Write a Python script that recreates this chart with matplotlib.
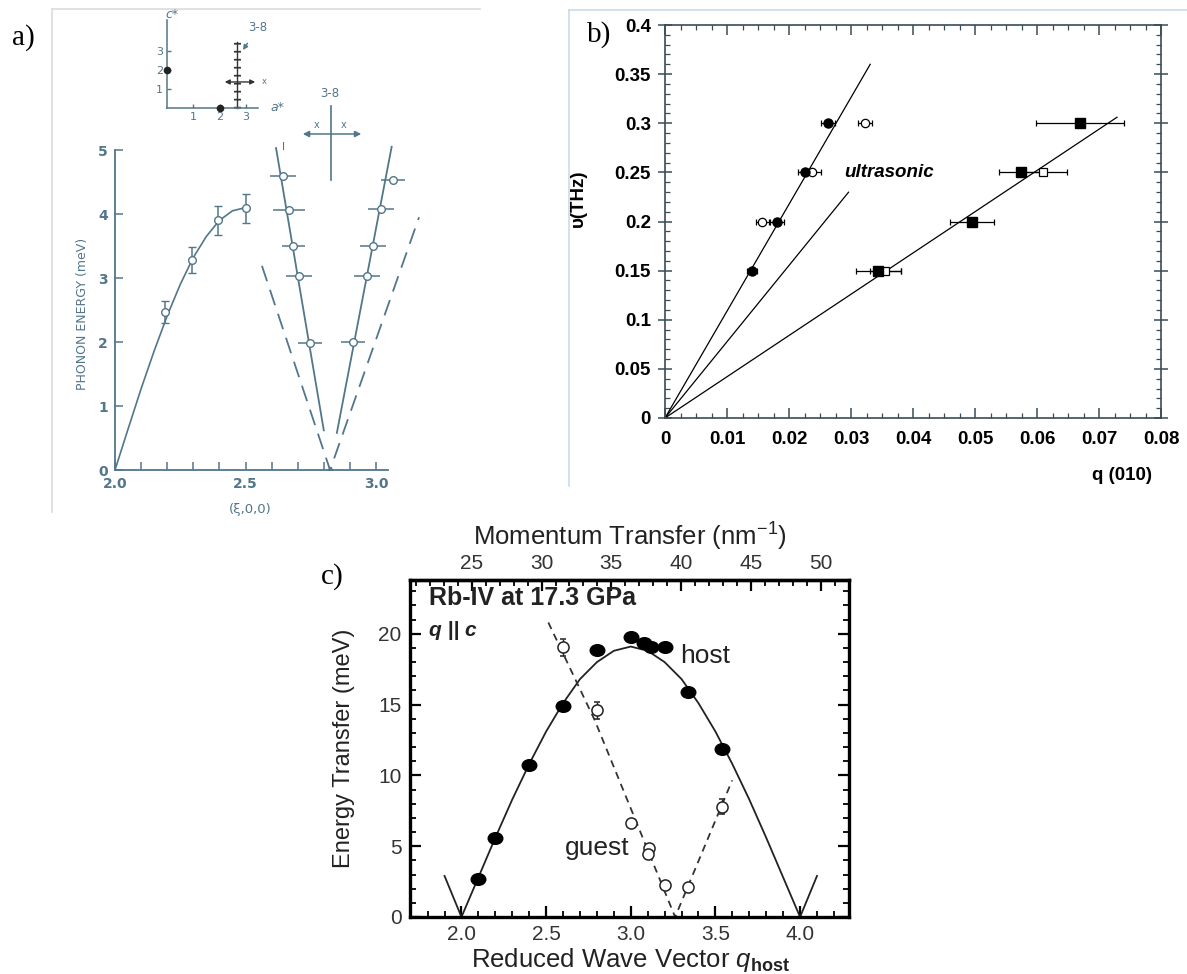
import matplotlib
matplotlib.use('Agg')
import matplotlib.pyplot as plt
from matplotlib.path import Path
from matplotlib.markers import MarkerStyle
from matplotlib.transforms import Affine2D
from matplotlib.ticker import MultipleLocator, FixedLocator

plt.rcParams['mathtext.fontset'] = 'custom'
plt.rcParams['mathtext.rm'] = 'Liberation Sans'
plt.rcParams['mathtext.it'] = 'Liberation Sans:italic'
plt.rcParams['mathtext.bf'] = 'Liberation Sans:bold'

# ---------------- panel a : phonon energy along (xi,0,0)
a_fit_x = [2.0, 2.05, 2.1, 2.15, 2.2, 2.25, 2.3, 2.35, 2.4, 2.45, 2.5]
a_fit_e = [0.0, 0.64, 1.27, 1.86, 2.41, 2.90, 3.32, 3.65, 3.90, 4.05, 4.10]
a_pts_x = [2.19, 2.295, 2.395, 2.5]
a_pts_e = [2.47, 3.28, 3.90, 4.09]
a_pts_err = [0.17, 0.20, 0.23, 0.23]

a_left_x = [2.643, 2.667, 2.683, 2.705, 2.747]
a_left_e = [4.59, 4.06, 3.50, 3.03, 1.98]
a_left_err = [0.05, 0.06, 0.045, 0.05, 0.045]
a_right_x = [3.066, 3.018, 2.990, 2.965, 2.912]
a_right_e = [4.53, 4.08, 3.50, 3.03, 2.00]
a_right_err = [0.045, 0.05, 0.05, 0.05, 0.045]

a_left_line_x = [2.617, 2.800]
a_left_line_e = [5.03, 0.62]
a_right_line_x = [2.850, 3.060]
a_right_line_e = [0.58, 5.05]
a_dash_x = [2.563, 2.824, 3.165]
a_dash_e = [3.19, 0.0, 3.95]
a_zero_x = [2.824]
a_zero_e = [0.0]

# scan-direction cross drawn above the branches
a_cross_x = 2.828
a_cross_e = [4.53, 5.69]
a_arrow_x = [2.709, 2.954]
a_arrow_e = 5.25

# reciprocal-lattice sketch (inset)
rl_dot_x = [2, 0]
rl_dot_y = [0, 2]
rl_scan_x = 2.66
rl_scan_top = 3.47
rl_arrow_x = [2.09, 3.46]
rl_arrow_y = 1.37

# ---------------- panel b : nu vs q (010)
b_fc_q = [0.0140, 0.0181, 0.0226, 0.0263]
b_fc_nu = [0.15, 0.20, 0.25, 0.30]
b_fc_err = [0.0008, 0.0011, 0.0011, 0.0011]
b_oc_q = [0.0157, 0.0237, 0.0323]
b_oc_nu = [0.20, 0.25, 0.30]
b_oc_err = [0.0011, 0.0015, 0.0011]
b_fs_q = [0.0344, 0.0495, 0.0574, 0.0669]
b_fs_nu = [0.15, 0.20, 0.25, 0.30]
b_fs_err = [0.0036, 0.0036, 0.0035, 0.0071]
b_os_q = [0.0355, 0.0609]
b_os_nu = [0.15, 0.25]
b_os_err = [0.0025, 0.0039]
b_line_q = [0.0331, 0.0296, 0.0729]
b_line_nu = [0.360, 0.2298, 0.3061]

# ---------------- panel c : Rb-IV at 17.3 GPa
c_host_q = [2.10, 2.20, 2.40, 2.60, 2.80, 3.00, 3.08, 3.12, 3.20, 3.34, 3.54]
c_host_e = [2.65, 5.6, 10.75, 14.9, 18.85, 19.8, 19.35, 19.05, 19.1, 15.9, 11.9]
c_guest_q = [2.60, 2.80, 3.00, 3.11, 3.10, 3.20, 3.34, 3.54]
c_guest_e = [19.05, 14.6, 6.65, 4.85, 4.45, 2.25, 2.15, 7.8]
c_guest_err = [0.6, 0.6, 0.2, 0.2, 0.2, 0.2, 0.2, 0.5]
c_fit_q = [1.9, 2.0, 2.1, 2.2, 2.3, 2.4, 2.5, 2.6, 2.7, 2.8, 2.9, 3.0,
           3.1, 3.2, 3.3, 3.4, 3.5, 3.6, 3.7, 3.8, 3.9, 4.0, 4.1]
c_fit_e = [2.9, 0.0, 2.8, 5.6, 8.3, 10.8, 13.1, 15.1, 16.8, 18.0, 18.8, 19.1,
           18.8, 18.0, 16.8, 15.1, 13.1, 10.8, 8.3, 5.6, 2.8, 0.0, 2.9]
c_guest_line_q = [2.513, 2.787, 3.262, 3.599]
c_guest_line_e = [20.8, 13.9, 0.0, 9.65]
nm_per_q = 12.13   # momentum transfer (nm^-1) per reduced unit


W, H = 1187, 974
fig = plt.figure(figsize=(W / 100, H / 100), dpi=100)


def box(x0, y0, x1, y1):
    # pixel box (top-left origin) -> figure fraction rect
    return [x0 / W, 1 - y1 / H, (x1 - x0) / W, (y1 - y0) / H]


# faint borders of the scanned panels
for rect, col in [(box(52, 9, 480, 512), '#dcdcdc'), (box(569, 10, 1187, 486), '#cadcea')]:
    bg = fig.add_axes(rect, zorder=-5)
    bg.set_xticks([])
    bg.set_yticks([])
    for s in ['right', 'bottom']:
        bg.spines[s].set_visible(False)
    for s in ['left', 'top']:
        bg.spines[s].set_color(col)
        bg.spines[s].set_linewidth(1.2)
    bg.patch.set_alpha(0)

# ================= panel a
ac = '#52768a'
axa = fig.add_axes([115 / W, 1 - 470 / H, 313.2 / W, 390.4 / H])
axa.patch.set_alpha(0)
axa.set_xlim(2.0, 3.2)
axa.set_ylim(0, 6.1)
for s in ['top', 'right']:
    axa.spines[s].set_visible(False)
axa.spines['left'].set_bounds(0, 5)
axa.spines['bottom'].set_bounds(2.0, 3.045)
for s in ['left', 'bottom']:
    axa.spines[s].set_color(ac)
    axa.spines[s].set_linewidth(1.3)
axa.xaxis.set_major_locator(FixedLocator([2.0, 2.5, 3.0]))
axa.xaxis.set_minor_locator(FixedLocator([2.1, 2.2, 2.3, 2.4, 2.6, 2.7, 2.8, 2.9]))
axa.yaxis.set_major_locator(FixedLocator([0, 1, 2, 3, 4, 5]))
axa.tick_params(which='both', direction='in', length=6, width=1.1, color=ac,
                labelcolor=ac, labelsize=10, pad=5)
axa.set_xticklabels(['2.0', '2.5', '3.0'], fontweight='bold')
axa.set_yticklabels(['0', '1', '2', '3', '4', '5'], fontweight='bold')
axa.set_ylabel('PHONON ENERGY (meV)', color=ac, fontsize=9)
axa.yaxis.set_label_coords(-0.083, 0.40)
axa.set_xlabel('(ξ,0,0)', color=ac, fontsize=9.5)
axa.xaxis.set_label_coords(0.431, -0.085)

axa.plot(a_fit_x, a_fit_e, color=ac, lw=1.2)
axa.errorbar(a_pts_x, a_pts_e, yerr=a_pts_err, fmt='o', ms=5.5, mfc='white', mec=ac,
             ecolor=ac, elinewidth=1.1, capsize=3, color=ac)
axa.plot(a_left_line_x, a_left_line_e, color=ac, lw=1.3)
axa.plot(a_right_line_x, a_right_line_e, color=ac, lw=1.3)
axa.plot(a_dash_x, a_dash_e, color=ac, lw=1.3, dashes=(9, 5))
axa.plot(a_zero_x, a_zero_e, 'o', ms=3, color=ac)
axa.errorbar(a_left_x, a_left_e, xerr=a_left_err, fmt='o', ms=5.5, mfc='white', mec=ac,
             ecolor=ac, elinewidth=1.1, capsize=0)
axa.errorbar(a_right_x, a_right_e, xerr=a_right_err, fmt='o', ms=5.5, mfc='white', mec=ac,
             ecolor=ac, elinewidth=1.1, capsize=0)
axa.text(2.644, 5.05, 'l', color=ac, fontsize=8, ha='center', va='center')

# cross: scan direction marker
axa.plot([a_cross_x, a_cross_x], a_cross_e, color=ac, lw=1.2)
axa.annotate('', xy=(a_arrow_x[0], a_arrow_e), xytext=(a_arrow_x[1], a_arrow_e),
             arrowprops=dict(arrowstyle='<|-|>', color=ac, lw=1.1, mutation_scale=9))
axa.text(2.774, 5.39, 'x', color=ac, fontsize=7, ha='center', va='center')
axa.text(2.874, 5.39, 'x', color=ac, fontsize=7, ha='center', va='center')
axa.text(2.824, 5.89, '3-8', color=ac, fontsize=8.5, ha='center', va='center')

# inset: reciprocal lattice sketch
axi = fig.add_axes(box(150, 5, 300, 130))
axi.patch.set_alpha(0)
axi.set_xlim(-0.646, 5.057)
axi.set_ylim(-1.158, 5.42)
for s in ['top', 'right']:
    axi.spines[s].set_visible(False)
axi.spines['left'].set_position(('data', 0))
axi.spines['bottom'].set_position(('data', 0))
axi.spines['left'].set_bounds(0, 4.63)
axi.spines['bottom'].set_bounds(0, 3.46)
for s in ['left', 'bottom']:
    axi.spines[s].set_color(ac)
    axi.spines[s].set_linewidth(1.1)
axi.set_xticks([1, 2, 3])
axi.set_yticks([1, 2, 3])
axi.tick_params(direction='in', length=3, width=1, color=ac, labelcolor=ac,
                labelsize=8, pad=3)
axi.plot(rl_dot_x, rl_dot_y, 'o', ms=4.5, color='#222222', clip_on=False, zorder=5)
axi.plot([rl_scan_x, rl_scan_x], [0, rl_scan_top], color='#333333', lw=1.0)
axi.plot([rl_scan_x, rl_scan_x], [0, rl_scan_top], color='#333333', lw=5, dashes=(0.25, 0.9))
axi.annotate('', xy=(rl_arrow_x[0], rl_arrow_y), xytext=(rl_arrow_x[1], rl_arrow_y),
             arrowprops=dict(arrowstyle='<|-|>', color='#333333', lw=1.0, mutation_scale=7))
axi.text(3.62, rl_arrow_y, 'x', color=ac, fontsize=6, va='center')
axi.annotate('3-8', xy=(2.89, 3.05), xytext=(3.46, 4.26), color=ac, fontsize=8.5,
             ha='center', va='center',
             arrowprops=dict(arrowstyle='-|>', color=ac, lw=1.0, mutation_scale=7,
                             shrinkA=6, shrinkB=0))
axi.text(4.18, 0, 'a*', color=ac, fontsize=9, va='center', ha='center', style='italic')
axi.text(0.19, 4.9, 'c*', color=ac, fontsize=9, va='center', ha='center', style='italic')

# ================= panel b
bc = '#3b4b55'
axb = fig.add_axes([665 / W, 1 - 418 / H, 496 / W, 393 / H])
axb.set_xlim(0, 0.08)
axb.set_ylim(0, 0.4)
for s in axb.spines.values():
    s.set_color(bc)
    s.set_linewidth(1.2)
axb.xaxis.set_major_locator(MultipleLocator(0.01))
axb.xaxis.set_minor_locator(MultipleLocator(0.0025))
axb.yaxis.set_major_locator(MultipleLocator(0.05))
axb.yaxis.set_minor_locator(MultipleLocator(0.01))
axb.tick_params(which='both', direction='in', top=True, right=True, color=bc)
axb.tick_params(which='major', length=7, width=1.1)
axb.tick_params(which='minor', length=3.5, width=0.9)
axb.tick_params(axis='y', which='major', direction='inout', length=10)
axb.set_xticks([0, 0.01, 0.02, 0.03, 0.04, 0.05, 0.06, 0.07, 0.08])
axb.set_xticklabels(['0', '0.01', '0.02', '0.03', '0.04', '0.05', '0.06', '0.07', '0.08'],
                    fontsize=13.5, fontweight='bold', family='Liberation Sans')
axb.set_yticks([0, 0.05, 0.1, 0.15, 0.2, 0.25, 0.3, 0.35, 0.4])
axb.set_yticklabels(['0', '0.05', '0.1', '0.15', '0.2', '0.25', '0.3', '0.35', '0.4'],
                    fontsize=13.5, fontweight='bold', family='Liberation Sans')
axb.tick_params(axis='x', pad=9)
axb.tick_params(axis='y', pad=5)
axb.set_xlabel('q (010)', fontsize=13.5, fontweight='bold', family='Liberation Sans')
axb.xaxis.set_label_coords(0.921, -0.125)
axb.set_ylabel('υ(THz)', fontsize=13.5, fontweight='bold', family='Liberation Sans')
axb.yaxis.set_label_coords(-0.157, 0.56)

for qe, ne in zip(b_line_q, b_line_nu):
    axb.plot([0, qe], [0, ne], color='black', lw=0.9)
eb = dict(ecolor='black', elinewidth=0.9, capsize=2, capthick=0.9)
axb.errorbar(b_oc_q, b_oc_nu, xerr=b_oc_err, fmt='o', ms=6, mfc='white', mec='black',
             mew=0.9, **eb)
axb.errorbar(b_os_q, b_os_nu, xerr=b_os_err, fmt='s', ms=6, mfc='white', mec='black',
             mew=0.9, **eb)
axb.errorbar(b_fc_q, b_fc_nu, xerr=b_fc_err, fmt='o', ms=6.5, color='black', **eb)
axb.errorbar(b_fs_q, b_fs_nu, xerr=b_fs_err, fmt='s', ms=6.5, color='black', **eb)
axb.text(0.0289, 0.25, 'ultrasonic', fontsize=13.5, fontweight='bold', style='italic',
         family='Liberation Sans', va='center', ha='left')

# ================= panel c
ink = '#222222'
axc = fig.add_axes([410 / W, 1 - 917 / H, 439 / W, 337 / H])
axc.set_xlim(1.696, 4.289)
axc.set_ylim(0, 23.8)
for s in axc.spines.values():
    s.set_linewidth(2.4)
axc.xaxis.set_minor_locator(MultipleLocator(0.1))
axc.yaxis.set_minor_locator(MultipleLocator(1))
axc.tick_params(which='both', direction='in', right=True, top=False)
axc.tick_params(which='major', length=8, width=1.6, labelsize=15, pad=6, labelcolor='#333333')
axc.tick_params(which='minor', length=4, width=1.3)
axc.set_xticks([2.0, 2.5, 3.0, 3.5, 4.0])
axc.set_xticklabels(['2.0', '2.5', '3.0', '3.5', '4.0'], family='Liberation Sans')
axc.set_yticks([0, 5, 10, 15, 20])
axc.set_yticklabels(['0', '5', '10', '15', '20'], family='Liberation Sans')

top = axc.secondary_xaxis('top', functions=(lambda x: x * nm_per_q, lambda q: q / nm_per_q))
top.xaxis.set_major_locator(FixedLocator([25, 30, 35, 40, 45, 50]))
top.xaxis.set_minor_locator(MultipleLocator(1))
top.tick_params(which='both', direction='in')
top.tick_params(which='major', length=8, width=1.6, labelsize=15, pad=5, labelcolor='#333333')
top.tick_params(which='minor', length=4, width=1.3)
top.spines['top'].set_linewidth(2.4)
for lab in top.get_xticklabels():
    lab.set_family('Liberation Sans')
top.set_xlabel(r'Momentum Transfer (nm$^{-1}$)', fontsize=18.5, family='Liberation Sans',
               labelpad=6, color=ink)

axc.text(0.503, -0.148, r'Reduced Wave Vector $q_{\mathbf{host}}$', transform=axc.transAxes,
         fontsize=18.5, family='Liberation Sans', color=ink, ha='center', va='baseline')
axc.set_ylabel('Energy Transfer (meV)', fontsize=17, family='Liberation Sans', color=ink)
axc.yaxis.set_label_coords(-0.125, 0.5)

ell = MarkerStyle(Path.unit_circle().transformed(Affine2D().scale(1.0, 0.8)))
axc.plot(c_fit_q, c_fit_e, color=ink, lw=1.3, clip_on=False)
axc.plot(c_guest_line_q, c_guest_line_e, color='#333333', lw=1.3, dashes=(4, 3))
axc.errorbar(c_guest_q, c_guest_e, yerr=c_guest_err, fmt='o', ms=8, mfc='white',
             mec=ink, mew=1.1, ecolor=ink, elinewidth=1.0, capsize=2, zorder=4)
axc.plot(c_host_q, c_host_e, ls='none', marker=ell, ms=10.5, color='black', zorder=5)

axc.text(1.806, 22.5, 'Rb-IV at 17.3 GPa', fontsize=18, fontweight='bold',
         family='Liberation Sans', va='center', ha='left', color=ink)
axc.text(1.806, 20.2, 'q || c', fontsize=15, fontweight='bold', style='italic',
         family='Liberation Sans', va='center', ha='left', color=ink)
axc.text(3.293, 18.4, 'host', fontsize=19, family='Liberation Sans', va='center',
         ha='left', color=ink)
axc.text(2.608, 4.85, 'guest', fontsize=19, family='Liberation Sans', va='center',
         ha='left', color=ink)

# panel letters
for (px, py), letter in zip([(23, 38), (599, 35), (332, 577)], ['a)', 'b)', 'c)']):
    fig.text(px / W, 1 - py / H, letter, fontsize=21, family='Liberation Serif',
             ha='center', va='center')

fig.savefig('out.png', dpi=100)
